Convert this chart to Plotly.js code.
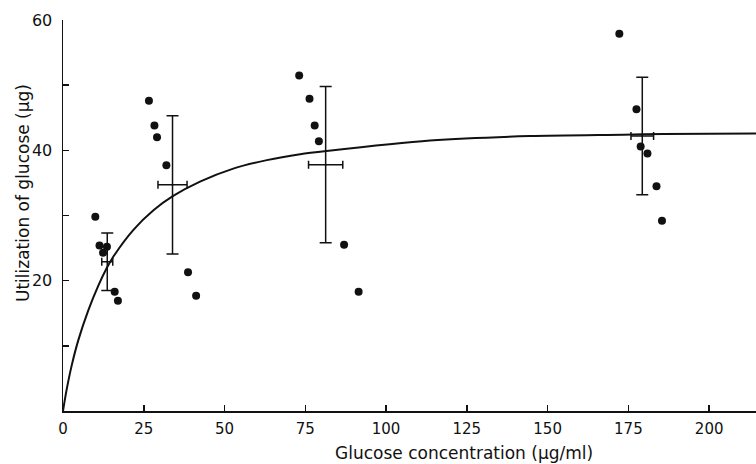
<!DOCTYPE html>
<html>
<head>
<meta charset="utf-8">
<script src="https://cdn.plot.ly/plotly-3.0.1.min.js"></script>
<style>
  html, body { margin: 0; padding: 0; background: #fff; }
  #glucose-plot { width: 756px; height: 464px; }
</style>
</head>
<body>
<div id="glucose-plot"></div>
<script>
var conc_pts = [10.0, 11.3, 13.6, 12.4, 16.0, 17.0,
                26.6, 28.3, 29.1, 32.0, 38.7, 41.2,
                73.1, 76.3, 77.9, 79.2, 87.0, 91.5,
                172.2, 177.5, 178.8, 180.9, 183.7, 185.4];
var util_pts = [29.8, 25.4, 25.2, 24.3, 18.3, 16.9,
                47.6, 43.8, 42.0, 37.7, 21.3, 17.7,
                51.5, 47.9, 43.8, 41.4, 25.5, 18.3,
                57.9, 46.3, 40.6, 39.5, 34.5, 29.2];

// group means with error bars
var conc_mean = [13.7, 33.9, 81.3, 179.3];
var util_mean = [22.9, 34.7, 37.8, 42.2];
var util_err  = [4.4, 10.6, 12.0, 9.0];
var conc_err  = [1.7, 4.5, 5.3, 3.5];

// fitted curve
var curve_x = [0, 1.1, 2.7, 4.7, 7.8, 10.9, 13.5, 15.6, 21.8, 28.0, 34.1, 42.4,
               52.7, 63.1, 73.4, 81.6, 113.6, 144.6, 173.5, 185.9, 214.5];
var curve_y = [0, 3.2, 7.0, 10.8, 15.4, 19.2, 21.9, 23.7, 27.8, 30.8, 33.0, 35.2,
               37.2, 38.5, 39.4, 39.9, 41.5, 42.2, 42.4, 42.5, 42.6];

var x_ticks = [0, 25, 50, 75, 100, 125, 150, 175, 200];
var y_ticks = [10, 20, 30, 40, 50, 60];
var y_labels = ['', '20', '', '40', '', '60'];

var ink = '#111';
var font = 'DejaVu Sans, sans-serif';

var curve = {
    x: curve_x, y: curve_y,
    type: 'scatter', mode: 'lines',
    line: { color: ink, width: 2, shape: 'spline', smoothing: 0.8 },
    hoverinfo: 'skip'
};

var points = {
    x: conc_pts, y: util_pts,
    type: 'scatter', mode: 'markers',
    marker: { color: ink, size: 8 }
};

var means = {
    x: conc_mean, y: util_mean,
    type: 'scatter', mode: 'markers',
    marker: { color: ink, size: 2 },
    error_y: { type: 'data', array: util_err, visible: true, color: ink, thickness: 1.5, width: 6 },
    error_x: { type: 'data', array: conc_err, visible: true, color: ink, thickness: 1.5, width: 4 }
};

var layout = {
    width: 756, height: 464,
    margin: { l: 63, r: 0, t: 20, b: 53 },
    paper_bgcolor: '#fff', plot_bgcolor: '#fff',
    showlegend: false,
    font: { family: font, size: 15, color: ink },
    xaxis: {
        range: [0, 214.5],
        tickvals: x_ticks,
        ticks: 'inside', ticklen: 6, tickwidth: 1.5, tickcolor: ink,
        ticklabelstandoff: 3,
        showline: true, linecolor: ink, linewidth: 1.5,
        showgrid: false, zeroline: false,
        tickfont: { family: font, size: 15, color: ink }
    },
    yaxis: {
        range: [0, 60],
        tickvals: y_ticks, ticktext: y_labels,
        ticks: 'inside', ticklen: 6, tickwidth: 1.5, tickcolor: ink,
        ticklabelstandoff: 6,
        showline: true, linecolor: ink, linewidth: 1.5,
        showgrid: false, zeroline: false,
        tickfont: { family: font, size: 16, color: ink }
    },
    annotations: [
        {
            text: 'Glucose concentration (μg/ml)',
            xref: 'x', yref: 'paper', x: 124, y: -0.107,
            xanchor: 'center', yanchor: 'middle', showarrow: false,
            font: { family: font, size: 17, color: ink }
        },
        {
            text: 'Utilization of glucose (μg)',
            xref: 'paper', yref: 'paper', x: -0.058, y: 0.557,
            xanchor: 'center', yanchor: 'middle', showarrow: false, textangle: -90,
            font: { family: font, size: 17, color: ink }
        }
    ]
};

Plotly.newPlot('glucose-plot', [curve, points, means], layout, { staticPlot: true });
</script>
</body>
</html>
